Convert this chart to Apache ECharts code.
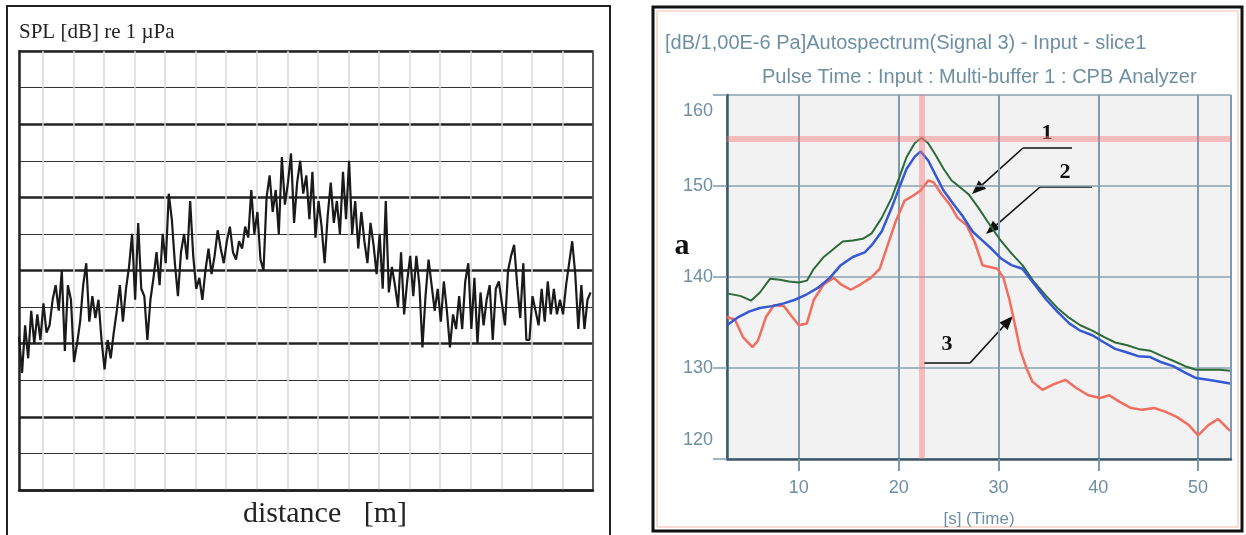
<!DOCTYPE html>
<html>
<head>
<meta charset="utf-8">
<script src="https://cdn.jsdelivr.net/npm/echarts@6.0.0/dist/echarts.min.js"></script>
<style>
  html, body { margin: 0; padding: 0; background: #fff; }
  #chart-container { width: 1246px; height: 535px; }
</style>
</head>
<body>
<div id="chart-container"></div>
<script>
// left panel: SPL along distance, one sample every 0.1 grid cell
var distStart = 0.22;
var distStep = 0.1;
var splValues = [
  4.2, 3.2, 4.5, 3.6, 4.9, 4.0, 4.8, 4.1, 5.1, 4.3,
  4.5, 5.2, 5.6, 4.9, 6.0, 3.8, 5.6, 5.2, 3.5, 4.0,
  4.6, 5.6, 6.2, 4.6, 5.3, 4.7, 5.2, 4.1, 3.3, 4.1,
  3.6, 4.3, 4.9, 5.6, 4.6, 5.5, 6.1, 7.0, 5.2, 7.3,
  5.5, 5.3, 4.1, 5.2, 5.8, 6.5, 5.6, 7.0, 6.2, 8.1,
  7.4, 6.2, 5.3, 6.5, 7.0, 6.3, 7.9, 6.4, 5.5, 5.8,
  5.2, 6.0, 6.6, 5.9, 6.4, 7.1, 6.6, 6.2, 6.8, 7.2,
  6.5, 6.3, 6.8, 6.6, 7.2, 6.9, 8.2, 7.0, 7.6, 6.3,
  6.0, 8.0, 8.6, 7.6, 8.2, 7.0, 9.1, 7.8, 8.4, 9.2,
  7.3, 8.4, 9.0, 8.1, 8.6, 7.4, 8.7, 6.9, 7.9, 7.2,
  6.2, 7.5, 8.4, 7.3, 7.9, 7.0, 8.7, 7.4, 9.0, 7.0,
  7.9, 6.6, 7.6, 6.8, 6.2, 7.3, 6.7, 5.9, 7.0, 5.5,
  7.9, 5.4, 6.1, 5.6, 5.0, 6.5, 4.8, 5.7, 6.4, 5.3,
  6.4, 5.6, 3.9, 5.3, 6.3, 5.6, 4.9, 5.5, 4.6, 5.7,
  4.9, 3.9, 4.8, 4.4, 5.3, 4.4, 5.7, 6.2, 4.4, 5.8,
  4.0, 5.4, 4.5, 5.2, 5.6, 4.1, 5.5, 5.7, 5.1, 4.5,
  6.0, 6.4, 6.7, 5.6, 4.7, 6.2, 4.1, 4.1, 5.3, 4.9,
  4.5, 5.5, 4.6, 5.7, 4.8, 5.5, 4.8, 5.2, 4.8, 5.6,
  6.2, 6.8, 5.9, 4.4, 5.6, 4.4, 5.2, 5.4
];

// right panel: [time s, level dB]
var curve1 = [[2.8,138.2],[4.2,137.9],[5.2,137.4],[6.1,138.3],[7.1,139.8],[8.1,139.7],[9.0,139.5],[10.0,139.4],[10.8,139.6],[11.5,140.9],[12.5,142.2],[13.5,143.1],[14.4,143.9],[15.4,144.0],[16.4,144.2],[17.3,144.8],[18.3,146.5],[19.3,148.7],[20.05,150.9],[20.8,153.2],[21.6,154.7],[22.3,155.3],[22.96,154.7],[23.7,153.4],[24.5,151.9],[25.3,150.6],[26.0,150.0],[27.0,149.1],[28.0,147.6],[28.9,146.1],[30.1,144.2],[31.3,142.6],[32.4,141.3],[33.6,139.4],[34.8,137.9],[35.9,136.6],[37.1,135.5],[38.2,134.7],[39.4,134.1],[40.6,133.4],[41.7,132.8],[42.9,132.5],[44.0,132.1],[45.2,131.9],[46.4,131.3],[47.5,130.8],[48.7,130.2],[49.8,129.8],[51.0,129.8],[52.2,129.8],[53.2,129.7]];
var curve2 = [[2.8,134.7],[3.8,135.5],[5.0,136.2],[6.1,136.6],[7.3,136.8],[8.5,137.1],[9.6,137.5],[10.8,138.1],[11.9,138.8],[13.1,139.9],[14.2,141.3],[15.4,142.2],[16.6,142.7],[17.3,143.5],[18.3,145.0],[19.3,147.6],[20.05,149.8],[20.8,151.9],[21.6,153.2],[22.2,153.8],[22.96,152.8],[23.7,151.2],[24.5,149.5],[25.5,148.0],[26.4,146.7],[27.4,145.0],[28.4,144.0],[29.3,143.1],[30.3,142.0],[31.3,141.3],[32.4,140.9],[33.6,139.2],[34.8,137.5],[35.9,136.2],[37.1,134.9],[38.2,134.1],[39.4,133.6],[40.6,132.8],[41.7,132.1],[42.9,131.7],[44.0,131.3],[45.2,131.2],[46.4,130.6],[47.5,130.2],[48.7,129.5],[49.8,128.9],[51.0,128.7],[52.2,128.5],[53.2,128.3]];
var curve3 = [[2.8,135.6],[3.6,135.3],[4.4,133.4],[5.35,132.3],[5.9,133.0],[6.7,135.6],[7.5,136.9],[8.5,136.8],[9.2,135.8],[10.0,134.7],[10.8,134.9],[11.5,137.5],[12.5,139.2],[13.5,139.9],[14.2,139.2],[15.2,138.6],[16.2,139.2],[17.2,139.9],[18.1,140.9],[18.9,143.5],[19.7,146.1],[20.6,148.4],[21.4,148.9],[22.2,149.5],[22.96,150.6],[23.5,150.4],[24.3,149.1],[25.1,148.0],[25.9,146.5],[26.8,145.7],[27.6,143.9],[28.4,141.3],[29.1,141.1],[29.9,140.9],[30.5,139.9],[31.1,137.5],[31.7,134.5],[32.2,131.9],[32.8,130.0],[33.4,128.5],[34.4,127.6],[35.5,128.2],[36.7,128.7],[37.8,127.8],[39.0,127.0],[40.2,126.7],[41.1,127.0],[42.1,126.3],[43.3,125.6],[44.4,125.4],[45.6,125.6],[46.7,125.2],[47.9,124.6],[49.1,123.7],[50.0,122.6],[51.0,123.7],[52.0,124.4],[53.2,123.1]];
var cursorTime = 22.3;
var cursorLevel = 155.2;

var splData = splValues.map(function (v, i) {
  return [+(distStart + i * distStep).toFixed(2), v];
});

var ink = '#6d8fa3';
var gridCol = '#7d9cb0';

function arrow(x1, y1, x2, y2) {
  var dx = x2 - x1, dy = y2 - y1;
  var L = Math.sqrt(dx * dx + dy * dy);
  var ux = dx / L, uy = dy / L;
  var bx = x2 - ux * 14, by = y2 - uy * 14;
  return [
    { type: 'polyline', shape: { points: [[x1, y1], [bx, by]] }, style: { stroke: '#111', lineWidth: 1.6 } },
    { type: 'polygon', shape: { points: [[x2, y2], [bx - uy * 5.5, by + ux * 5.5], [bx + uy * 5.5, by - ux * 5.5]] }, style: { fill: '#111' } }
  ];
}
function hline(x1, x2, y) {
  return { type: 'line', shape: { x1: x1, y1: y, x2: x2, y2: y }, style: { stroke: '#111', lineWidth: 1.6 } };
}
function label(txt, x, y, font, color, align) {
  return { type: 'text', x: x, y: y, style: { text: txt, font: font, fill: color || '#111', align: align || 'center', verticalAlign: 'middle' } };
}

var dom = document.getElementById('chart-container');
var myChart = echarts.init(dom, null, { renderer: 'canvas' });

var option = {
  animation: false,
  backgroundColor: '#fff',
  grid: [
    { left: 19, top: 51, width: 574, height: 439, show: true, borderColor: '#777', borderWidth: 1 },
    { left: 727, top: 95, width: 504, height: 364, show: true, backgroundColor: '#f2f2f2', borderWidth: 0 }
  ],
  xAxis: [
    {
      gridIndex: 0, type: 'value', min: distStart, max: 19, minInterval: 1, maxInterval: 1,
      axisLine: { show: true, onZero: false, lineStyle: { color: '#222', width: 2.5 } },
      axisTick: { show: false }, axisLabel: { show: false },
      splitLine: { show: true, lineStyle: { color: '#d9d9d9', width: 1.5 } }
    },
    {
      gridIndex: 1, type: 'value', min: 2.8, max: 53.3, minInterval: 10, maxInterval: 10,
      name: '[s] (Time)', nameLocation: 'middle', nameGap: 52,
      nameTextStyle: { color: ink, fontSize: 17, fontFamily: 'Liberation Sans' },
      axisLine: { show: true, onZero: false, lineStyle: { color: '#3d5a68', width: 2.5 } },
      axisTick: { show: true, length: 12, lineStyle: { color: gridCol, width: 2 } },
      axisLabel: { color: ink, fontSize: 18, fontFamily: 'Liberation Sans', margin: 20, showMinLabel: false, showMaxLabel: false },
      splitLine: { show: true, lineStyle: { color: gridCol, width: 2 } }
    }
  ],
  yAxis: [
    {
      gridIndex: 0, type: 'value', min: 0, max: 12, interval: 1,
      axisLine: { show: true, lineStyle: { color: '#222', width: 2.5 } },
      axisTick: { show: false }, axisLabel: { show: false },
      splitLine: { show: true, lineStyle: { color: '#333', width: 1 } }
    },
    {
      gridIndex: 0, type: 'value', min: 0, max: 12, interval: 2, position: 'right',
      axisLine: { show: true, lineStyle: { color: '#333', width: 1.5 } },
      axisTick: { show: false }, axisLabel: { show: false },
      splitLine: { show: true, lineStyle: { color: '#222', width: 2.5 } }
    },
    {
      gridIndex: 1, type: 'value', min: 120, max: 160, interval: 10,
      axisLine: { show: true, lineStyle: { color: '#3d5a68', width: 2.5 } },
      axisTick: { show: true, length: 14, lineStyle: { color: gridCol, width: 1.5 } },
      axisLabel: {
        color: ink, fontSize: 18, fontFamily: 'Liberation Sans', margin: 14,
        verticalAlignMinLabel: 'bottom', verticalAlignMaxLabel: 'top',
        formatter: function (v) {
          if (v === 160) return '{hi|' + v + '}';
          if (v === 120) return '{lo|' + v + '}';
          return String(v);
        },
        rich: {
          hi: { color: ink, fontSize: 18, fontFamily: 'Liberation Sans', padding: [7, 0, 0, 0] },
          lo: { color: ink, fontSize: 18, fontFamily: 'Liberation Sans', padding: [0, 0, 10, 0] }
        }
      },
      splitLine: { show: true, lineStyle: { color: '#8aa3b0', width: 1.5 } }
    }
  ],
  series: [
    {
      name: 'SPL', type: 'line', xAxisIndex: 0, yAxisIndex: 0, data: splData,
      showSymbol: false, lineStyle: { color: '#1a1a1a', width: 2.2 }
    },
    {
      name: '3', type: 'line', xAxisIndex: 1, yAxisIndex: 2, data: curve3,
      showSymbol: false, lineStyle: { color: '#f26d5e', width: 2.5 },
      markLine: {
        silent: true, symbol: 'none', label: { show: false },
        lineStyle: { color: 'rgba(244,120,120,0.45)', width: 6, type: 'solid' },
        data: [{ xAxis: cursorTime }, { yAxis: cursorLevel }]
      }
    },
    {
      name: '1', type: 'line', xAxisIndex: 1, yAxisIndex: 2, data: curve1,
      showSymbol: false, lineStyle: { color: '#2c6a3a', width: 2 }
    },
    {
      name: '2', type: 'line', xAxisIndex: 1, yAxisIndex: 2, data: curve2,
      showSymbol: false, lineStyle: { color: '#3558d4', width: 2.5 }
    }
  ],
  graphic: [].concat(
    [
      { type: 'rect', shape: { x: 7, y: 6, width: 603, height: 540 }, style: { fill: 'none', stroke: '#222', lineWidth: 2 } },
      { type: 'rect', shape: { x: 653, y: 7, width: 589, height: 524 }, style: { fill: 'none', stroke: '#111', lineWidth: 3 } },
      { type: 'rect', shape: { x: 657, y: 11, width: 581, height: 516 }, style: { fill: 'none', stroke: '#f3b8aa', lineWidth: 1 } },
      label('SPL [dB] re 1 \u00b5Pa', 19, 32, '21px "Liberation Serif"', '#222', 'left'),
      label('distance   [m]', 325, 514, '30px "Liberation Serif"', '#222', 'center'),
      label('[dB/1,00E-6 Pa]Autospectrum(Signal 3) - Input - slice1', 665, 43, '20px "Liberation Sans"', ink, 'left'),
      label('Pulse Time : Input : Multi-buffer 1 : CPB Analyzer', 762, 77, '20px "Liberation Sans"', ink, 'left'),
      label('a', 682, 246, 'bold 30px "Liberation Serif"', '#111', 'center'),
      label('1', 1047, 133, 'bold 22px "Liberation Serif"'),
      label('2', 1065, 172, 'bold 22px "Liberation Serif"'),
      label('3', 947, 344, 'bold 22px "Liberation Serif"'),
      hline(1023, 1072, 148),
      hline(1040, 1092, 187),
      hline(924, 970, 363)
    ],
    arrow(1023, 148, 972, 194),
    arrow(1040, 187, 986, 234),
    arrow(970, 363, 1013, 316)
  )
};

myChart.setOption(option);
window.addEventListener('resize', myChart.resize);
</script>
</body>
</html>
